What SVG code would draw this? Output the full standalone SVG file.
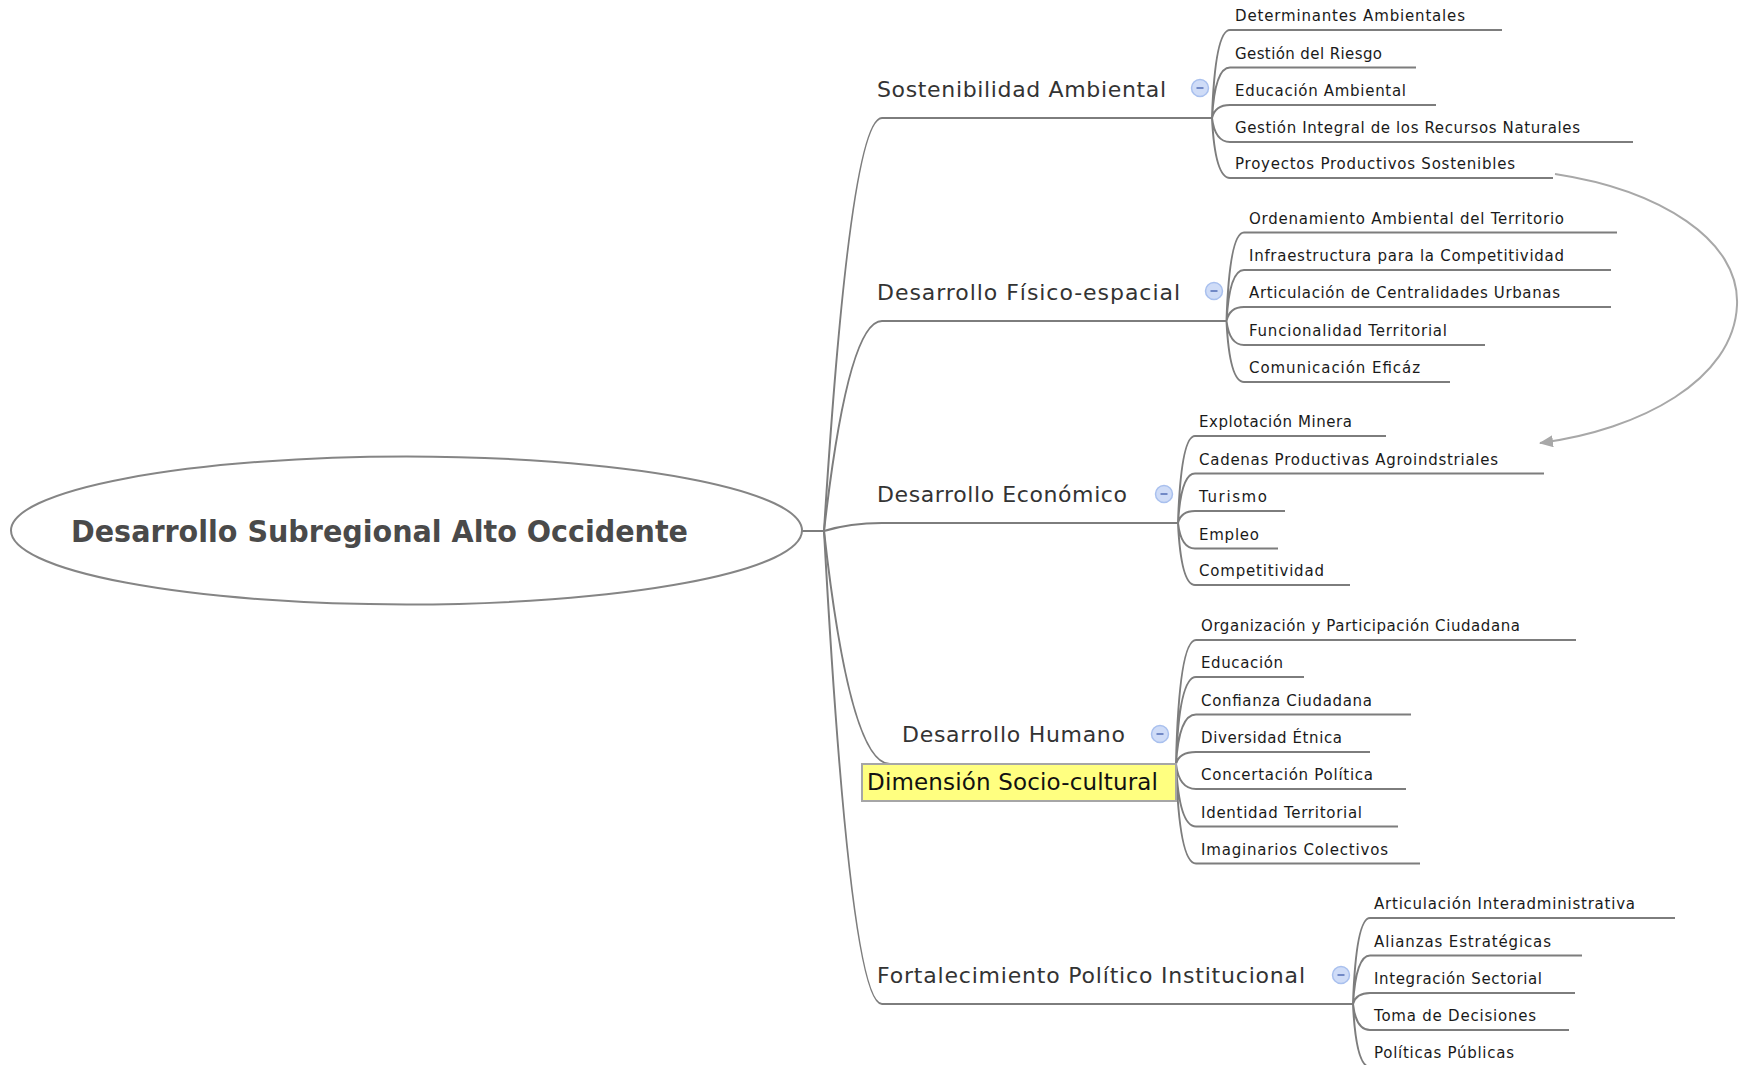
<svg xmlns="http://www.w3.org/2000/svg" width="1742" height="1065" viewBox="0 0 1742 1065">
<style>
.conn{fill:none;stroke:#7d7d7d;stroke-width:2}
.ul{stroke:#7d7d7d;stroke-width:2}
.rel{fill:none;stroke:#a8a8a8;stroke-width:2}
.root{font-family:"DejaVu Sans","Liberation Sans",sans-serif;font-weight:bold;font-size:30px;fill:#4a4a4a}
.main{font-family:"DejaVu Sans","Liberation Sans",sans-serif;font-size:22px;fill:#333333}
.sub{font-family:"DejaVu Sans","Liberation Sans",sans-serif;font-size:15px;fill:#1a1a1a}
.ic circle{fill:#cfdcf7;stroke:#a9c0ee;stroke-width:1.5}
.ic line{stroke:#7189c6;stroke-width:2}
</style>
<defs>
<marker id="arr" viewBox="0 0 14 12" refX="13" refY="6" markerWidth="14" markerHeight="12" markerUnits="userSpaceOnUse" orient="auto">
<path d="M0,0 L14,6 L0,12 z" fill="#a8a8a8"/>
</marker>
</defs>
<rect width="1742" height="1065" fill="#ffffff"/>

<g id="connectors">
<path class="conn" d="M802,531 L824,531"/>
<path class="conn" d="M824,531 Q850,118 882,118"/>
<path class="conn" d="M824,531 Q848,321 882,321"/>
<path class="conn" d="M824,531 Q850,523 882,523"/>
<path class="conn" d="M824,531 Q850,764 890,764"/>
<path class="conn" d="M824,531 Q850,1004 882,1004"/>
<path class="conn" d="M1212,118 Q1215,30 1230,30 M1212,118 Q1215,67.5 1230,67.5 M1212,118 Q1215,105 1230,105 M1212,118 Q1215,142 1230,142 M1212,118 Q1215,178 1230,178"/>
<path class="conn" d="M1226.5,321 Q1229.5,232.5 1244,232.5 M1226.5,321 Q1229.5,270 1244,270 M1226.5,321 Q1229.5,307 1244,307 M1226.5,321 Q1229.5,345 1244,345 M1226.5,321 Q1229.5,382 1244,382"/>
<path class="conn" d="M1178,523 Q1181,436 1195,436 M1178,523 Q1181,473.5 1195,473.5 M1178,523 Q1181,511 1195,511 M1178,523 Q1181,548.5 1195,548.5 M1178,523 Q1181,585 1195,585"/>
<path class="conn" d="M1176,764 Q1179,640 1196,640 M1176,764 Q1179,677 1196,677 M1176,764 Q1179,714.5 1196,714.5 M1176,764 Q1179,752 1196,752 M1176,764 Q1179,789 1196,789 M1176,764 Q1179,826.5 1196,826.5 M1176,764 Q1179,863.5 1196,863.5"/>
<path class="conn" d="M1353,1004 Q1356,918 1370,918 M1353,1004 Q1356,955.5 1370,955.5 M1353,1004 Q1356,993 1370,993 M1353,1004 Q1356,1030 1370,1030 M1353,1004 Q1356,1067 1370,1067"/>
<path class="rel" d="M1555,174 C1660,190 1740,240 1737,305 C1734,380 1640,430 1540,443" marker-end="url(#arr)"/>
</g>

<g id="root">
<ellipse cx="406.5" cy="530.5" rx="395.5" ry="74" fill="#ffffff" stroke="#858585" stroke-width="2"/>
<text class="root" x="71" y="542" textLength="617" lengthAdjust="spacingAndGlyphs">Desarrollo Subregional Alto Occidente</text>
</g>

<g id="sostenibilidad">
<line class="ul" x1="882" y1="118" x2="1212" y2="118"/>
<text class="main" x="877" y="97" textLength="289">Sostenibilidad Ambiental</text>
<g class="ic"><circle cx="1200" cy="88" r="8.5"/><line x1="1196.5" y1="88" x2="1203.5" y2="88"/></g>
</g>
<g id="s-determinantes"><line class="ul" x1="1230" y1="30" x2="1502" y2="30"/><text class="sub" x="1235" y="21" textLength="230">Determinantes Ambientales</text></g>
<g id="s-riesgo"><line class="ul" x1="1230" y1="67.5" x2="1416" y2="67.5"/><text class="sub" x="1235" y="58.5" textLength="147">Gestión del Riesgo</text></g>
<g id="s-educacion"><line class="ul" x1="1230" y1="105" x2="1436" y2="105"/><text class="sub" x="1235" y="96" textLength="171">Educación Ambiental</text></g>
<g id="s-recursos"><line class="ul" x1="1230" y1="142" x2="1633" y2="142"/><text class="sub" x="1235" y="133" textLength="345">Gestión Integral de los Recursos Naturales</text></g>
<g id="s-proyectos"><line class="ul" x1="1230" y1="178" x2="1553" y2="178"/><text class="sub" x="1235" y="169" textLength="280">Proyectos Productivos Sostenibles</text></g>

<g id="fisico">
<line class="ul" x1="882" y1="321" x2="1226.5" y2="321"/>
<text class="main" x="877" y="300" textLength="303">Desarrollo Físico-espacial</text>
<g class="ic"><circle cx="1214" cy="291" r="8.5"/><line x1="1210.5" y1="291" x2="1217.5" y2="291"/></g>
</g>
<g id="f-ordenamiento"><line class="ul" x1="1244" y1="232.5" x2="1617" y2="232.5"/><text class="sub" x="1249" y="223.5" textLength="315">Ordenamiento Ambiental del Territorio</text></g>
<g id="f-infraestructura"><line class="ul" x1="1244" y1="270" x2="1611" y2="270"/><text class="sub" x="1249" y="261" textLength="315">Infraestructura para la Competitividad</text></g>
<g id="f-centralidades"><line class="ul" x1="1244" y1="307" x2="1611" y2="307"/><text class="sub" x="1249" y="298" textLength="311">Articulación de Centralidades Urbanas</text></g>
<g id="f-funcionalidad"><line class="ul" x1="1244" y1="345" x2="1485" y2="345"/><text class="sub" x="1249" y="336" textLength="198">Funcionalidad Territorial</text></g>
<g id="f-comunicacion"><line class="ul" x1="1244" y1="382" x2="1450" y2="382"/><text class="sub" x="1249" y="373" textLength="171">Comunicación Eficáz</text></g>

<g id="economico">
<line class="ul" x1="882" y1="523" x2="1178" y2="523"/>
<text class="main" x="877" y="502" textLength="250">Desarrollo Económico</text>
<g class="ic"><circle cx="1164" cy="494" r="8.5"/><line x1="1160.5" y1="494" x2="1167.5" y2="494"/></g>
</g>
<g id="e-minera"><line class="ul" x1="1195" y1="436" x2="1386" y2="436"/><text class="sub" x="1199" y="427" textLength="153">Explotación Minera</text></g>
<g id="e-cadenas"><line class="ul" x1="1195" y1="473.5" x2="1544" y2="473.5"/><text class="sub" x="1199" y="464.5" textLength="299">Cadenas Productivas Agroindstriales</text></g>
<g id="e-turismo"><line class="ul" x1="1195" y1="511" x2="1285" y2="511"/><text class="sub" x="1199" y="502" textLength="68">Turismo</text></g>
<g id="e-empleo"><line class="ul" x1="1195" y1="548.5" x2="1278" y2="548.5"/><text class="sub" x="1199" y="539.5" textLength="60">Empleo</text></g>
<g id="e-competitividad"><line class="ul" x1="1195" y1="585" x2="1350" y2="585"/><text class="sub" x="1199" y="576" textLength="125">Competitividad</text></g>

<g id="humano">
<text class="main" x="902" y="742" textLength="223">Desarrollo Humano</text>
<g class="ic"><circle cx="1160" cy="734" r="8.5"/><line x1="1156.5" y1="734" x2="1163.5" y2="734"/></g>
<rect x="862" y="764" width="314" height="37" fill="#ffff80" stroke="#a6a6a6" stroke-width="2"/>
<text class="main" x="867" y="790" style="font-size:23px;fill:#111111" textLength="291">Dimensión Socio-cultural</text>
</g>
<g id="h-organizacion"><line class="ul" x1="1196" y1="640" x2="1576" y2="640"/><text class="sub" x="1201" y="631" textLength="319">Organización y Participación Ciudadana</text></g>
<g id="h-educacion"><line class="ul" x1="1196" y1="677" x2="1304" y2="677"/><text class="sub" x="1201" y="668" textLength="82">Educación</text></g>
<g id="h-confianza"><line class="ul" x1="1196" y1="714.5" x2="1411" y2="714.5"/><text class="sub" x="1201" y="705.5" textLength="171">Confianza Ciudadana</text></g>
<g id="h-diversidad"><line class="ul" x1="1196" y1="752" x2="1370" y2="752"/><text class="sub" x="1201" y="743" textLength="141">Diversidad Étnica</text></g>
<g id="h-concertacion"><line class="ul" x1="1196" y1="789" x2="1406" y2="789"/><text class="sub" x="1201" y="780" textLength="172">Concertación Política</text></g>
<g id="h-identidad"><line class="ul" x1="1196" y1="826.5" x2="1398" y2="826.5"/><text class="sub" x="1201" y="817.5" textLength="161">Identidad Territorial</text></g>
<g id="h-imaginarios"><line class="ul" x1="1196" y1="863.5" x2="1420" y2="863.5"/><text class="sub" x="1201" y="854.5" textLength="187">Imaginarios Colectivos</text></g>

<g id="fortalecimiento">
<line class="ul" x1="882" y1="1004" x2="1353" y2="1004"/>
<text class="main" x="877" y="983" textLength="428">Fortalecimiento Político Institucional</text>
<g class="ic"><circle cx="1341" cy="975" r="8.5"/><line x1="1337.5" y1="975" x2="1344.5" y2="975"/></g>
</g>
<g id="p-interadministrativa"><line class="ul" x1="1370" y1="918" x2="1675" y2="918"/><text class="sub" x="1374" y="909" textLength="261">Articulación Interadministrativa</text></g>
<g id="p-alianzas"><line class="ul" x1="1370" y1="955.5" x2="1582" y2="955.5"/><text class="sub" x="1374" y="946.5" textLength="177">Alianzas Estratégicas</text></g>
<g id="p-integracion"><line class="ul" x1="1370" y1="993" x2="1575" y2="993"/><text class="sub" x="1374" y="984" textLength="168">Integración Sectorial</text></g>
<g id="p-decisiones"><line class="ul" x1="1370" y1="1030" x2="1569" y2="1030"/><text class="sub" x="1374" y="1021" textLength="162">Toma de Decisiones</text></g>
<g id="p-politicas"><line class="ul" x1="1370" y1="1067" x2="1546" y2="1067"/><text class="sub" x="1374" y="1058" textLength="140">Políticas Públicas</text></g>
</svg>
